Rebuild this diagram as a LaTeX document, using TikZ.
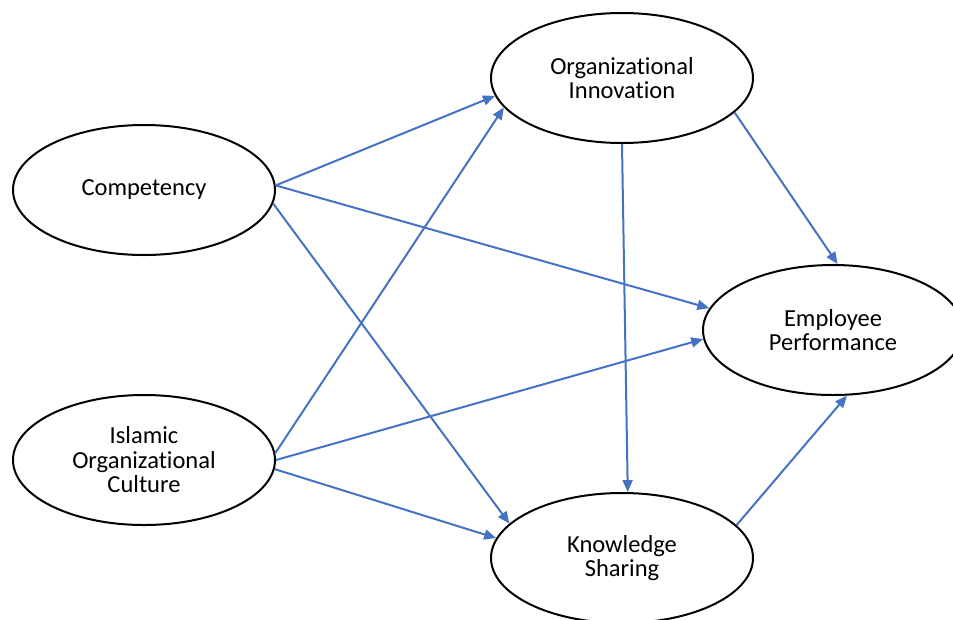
\documentclass[tikz,border=0pt]{standalone}
\usepackage{fontspec}
\setmainfont[Ligatures=NoCommon]{Carlito}
\usetikzlibrary{shapes.geometric,arrows.meta}
\definecolor{arrowblue}{RGB}{68,114,196}
\tikzset{
  construct/.style={ellipse, draw=black, line width=2pt, inner sep=0pt,
    minimum width=262pt, minimum height=130pt, align=center,
    font=\fontsize{24.5pt}{24.5pt}\selectfont},
  path/.style={draw=arrowblue, line width=2pt,
    -{Triangle[length=12pt,width=10pt]}}
}
\begin{document}
\begin{tikzpicture}[x=1pt,y=-1pt]
\useasboundingbox (0,0) rectangle (953,619);
\clip (0,0) rectangle (953,619);
\node[construct] (C) at (144,190) {Competency};
\node[construct] (I) at (144,460) {Islamic\\Organizational\\Culture};
\node[construct] (OI) at (622,78) {Organizational\\Innovation};
\node[construct, minimum width=260pt] (EP) at (833,330) {Employee\\Performance};
\node[construct] (KS) at (622,558) {Knowledge\\Sharing};
\draw[path] (C.2) -- (OI.188);
\draw[path] (C.2) -- (EP.170);
\draw[path] (C.354) -- (KS.163);
\draw[path] (I.3) -- (OI.194);
\draw[path] (I.0) -- (EP.184);
\draw[path] (I.356.5) -- (KS.171.7);
\draw[path] (OI.270) -- (KS.85);
\draw[path] (OI.343.5) -- (EP.86.4);
\draw[path] (KS.16.8) -- (EP.282);
\end{tikzpicture}
\end{document}
